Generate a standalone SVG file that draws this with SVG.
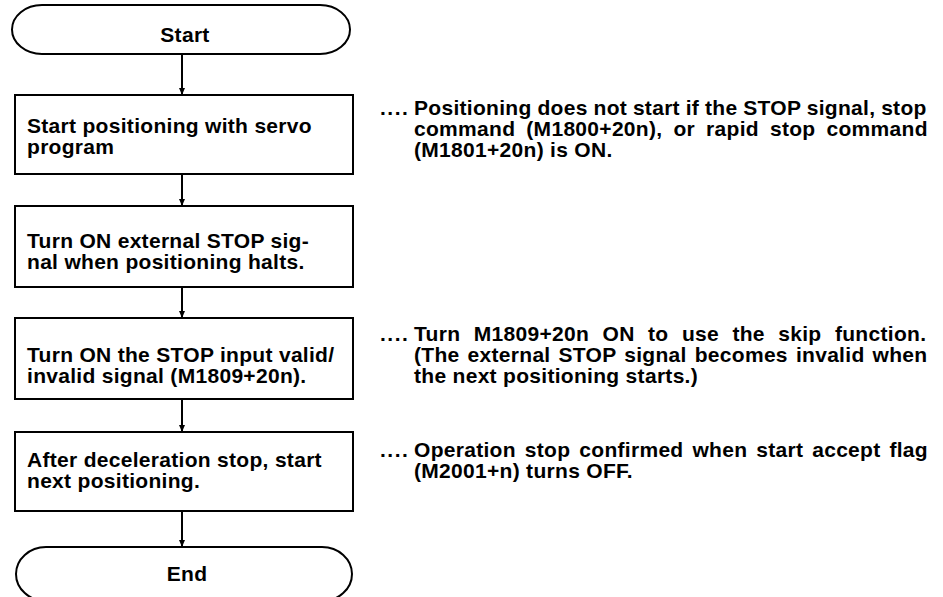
<svg xmlns="http://www.w3.org/2000/svg" width="943" height="597" viewBox="0 0 943 597">
<defs>
<marker id="arr" markerWidth="7" markerHeight="7" refX="7" refY="3.5" orient="auto" markerUnits="userSpaceOnUse" viewBox="0 0 7 7">
<path d="M0,0.5 L7,3.5 L0,6.5 Z" fill="#000"/>
</marker>
</defs>
<style>
.shape{fill:#fff;stroke:#000;stroke-width:2}
.t{font-family:"Liberation Sans",Arial,Helvetica,sans-serif;font-weight:bold;font-size:21px;letter-spacing:0.3px;fill:#000}
.c{text-anchor:middle}
.d{letter-spacing:1.5px}
.conn line{stroke:#000;stroke-width:2}
</style>
<rect width="943" height="597" fill="#fff"/>
<g id="start">
<rect class="shape" x="12" y="5" width="338" height="49" rx="30" ry="24.5"/>
<text class="t c" x="185" y="42">Start</text>
</g>
<g id="step1">
<rect class="shape" x="15" y="95" width="338" height="79"/>
<text class="t" x="27" y="133">Start positioning with servo</text>
<text class="t" x="27" y="154">program</text>
</g>
<g id="step2">
<rect class="shape" x="15" y="206" width="338" height="81"/>
<text class="t" x="27" y="248">Turn ON external STOP sig-</text>
<text class="t" x="27" y="269">nal when positioning halts.</text>
</g>
<g id="step3">
<rect class="shape" x="15" y="318" width="338" height="81"/>
<text class="t" x="27" y="362">Turn ON the STOP input valid/</text>
<text class="t" x="27" y="383">invalid signal (M1809+20n).</text>
</g>
<g id="step4">
<rect class="shape" x="15" y="432" width="338" height="79"/>
<text class="t" x="27" y="467">After deceleration stop, start</text>
<text class="t" x="27" y="488">next positioning.</text>
</g>
<g id="end">
<rect class="shape" x="16" y="547" width="336" height="54" rx="30" ry="27"/>
<text class="t c" x="187" y="581">End</text>
</g>
<g id="connectors" class="conn">
<line x1="182" y1="54" x2="182" y2="95" marker-end="url(#arr)"/>
<line x1="182" y1="174" x2="182" y2="206" marker-end="url(#arr)"/>
<line x1="182" y1="287" x2="182" y2="318" marker-end="url(#arr)"/>
<line x1="182" y1="399" x2="182" y2="432" marker-end="url(#arr)"/>
<line x1="182" y1="511" x2="182" y2="547" marker-end="url(#arr)"/>
</g>
<g id="note1">
<text class="t d" x="380" y="115">....</text>
<text class="t" x="414" y="115" style="word-spacing:-0.3px">Positioning does not start if the STOP signal, stop</text>
<text class="t" x="414" y="136" style="word-spacing:4.9px">command (M1800+20n), or rapid stop command</text>
<text class="t" x="414" y="157">(M1801+20n) is ON.</text>
</g>
<g id="note2">
<text class="t d" x="380" y="341">....</text>
<text class="t" x="414" y="341" style="word-spacing:7.3px">Turn M1809+20n ON to use the skip function.</text>
<text class="t" x="414" y="362" style="word-spacing:1.9px">(The external STOP signal becomes invalid when</text>
<text class="t" x="414" y="383">the next positioning starts.)</text>
</g>
<g id="note3">
<text class="t d" x="380" y="457">....</text>
<text class="t" x="414" y="457" style="word-spacing:2.8px">Operation stop confirmed when start accept flag</text>
<text class="t" x="414" y="478">(M2001+n) turns OFF.</text>
</g>
</svg>
